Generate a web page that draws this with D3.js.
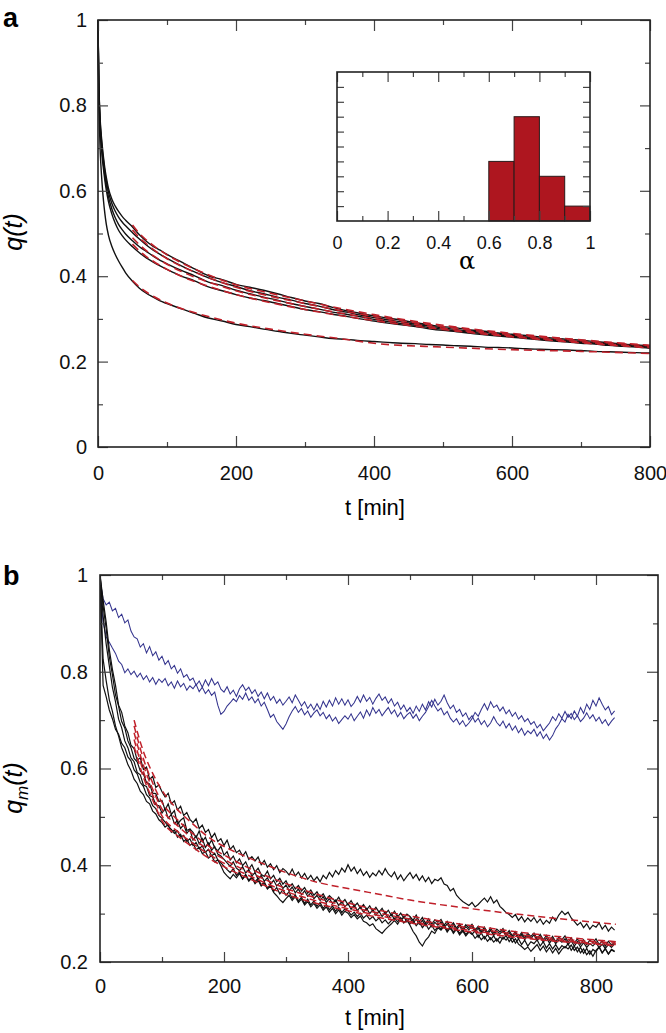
<!DOCTYPE html>
<html lang="en">
<head>
<meta charset="UTF-8">
<title>Overlap decay q(t)</title>
<script src="https://cdn.jsdelivr.net/npm/d3@7"></script>
<style>
body { margin: 0; background: #fff; font-family: Helvetica, Arial, "Liberation Sans", sans-serif; }
.tick text { font-family: Helvetica, Arial, "Liberation Sans", sans-serif; fill: #111; }
.tick line { stroke: #444; stroke-width: 1.2; }
.frame { fill: none; stroke: #222; stroke-width: 1.6; }
</style>
</head>
<body>
<script>
// ---------- panel a : q(t) ----------
var tA = [0,1,2,3,4,5,6,8,10,12,15,20,25,30,35,40,50,60,70,80,90,100,
  120,140,160,180,200,220,240,260,280,300,320,340,360,380,400,420,440,460,480,
  500,520,540,560,580,600,620,640,660,680,700,720,740,760,780,800];

var qA1 = [1,0.870,0.810,0.772,0.745,0.726,0.708,0.678,0.652,0.632,0.607,0.581,0.564,0.551,0.540,0.531,0.515,0.497,0.482,0.470,0.461,0.451,
  0.434,0.417,0.401,0.392,0.381,0.374,0.367,0.359,0.350,0.342,0.336,0.327,0.319,0.313,0.307,0.302,0.297,0.291,0.286,
  0.282,0.279,0.274,0.271,0.267,0.264,0.261,0.258,0.255,0.252,0.250,0.247,0.244,0.241,0.239,0.237];
var qA2 = [1,0.865,0.805,0.766,0.738,0.718,0.700,0.670,0.644,0.623,0.598,0.571,0.552,0.538,0.527,0.518,0.502,0.487,0.473,0.461,0.451,0.442,
  0.425,0.410,0.396,0.385,0.376,0.366,0.359,0.351,0.344,0.336,0.330,0.322,0.316,0.309,0.303,0.298,0.293,0.288,0.283,
  0.279,0.275,0.271,0.268,0.264,0.261,0.258,0.255,0.252,0.249,0.247,0.244,0.242,0.239,0.237,0.235];
var qA3 = [1,0.860,0.798,0.758,0.729,0.708,0.690,0.660,0.634,0.613,0.587,0.558,0.537,0.521,0.509,0.499,0.483,0.469,0.458,0.447,0.437,0.429,
  0.414,0.401,0.386,0.378,0.367,0.359,0.351,0.344,0.336,0.329,0.323,0.316,0.311,0.305,0.299,0.294,0.289,0.285,0.280,
  0.276,0.272,0.269,0.265,0.262,0.259,0.256,0.253,0.250,0.248,0.245,0.243,0.240,0.238,0.236,0.233];
var qA4 = [1,0.855,0.790,0.750,0.720,0.700,0.680,0.650,0.624,0.602,0.576,0.546,0.524,0.507,0.495,0.485,0.469,0.455,0.443,0.433,0.424,0.416,
  0.401,0.389,0.375,0.366,0.357,0.349,0.343,0.336,0.329,0.322,0.317,0.311,0.306,0.300,0.295,0.290,0.286,0.282,0.277,
  0.273,0.270,0.266,0.263,0.260,0.257,0.254,0.251,0.248,0.246,0.243,0.241,0.238,0.236,0.234,0.231];
var qA5 = [1,0.840,0.755,0.700,0.665,0.638,0.615,0.576,0.546,0.522,0.497,0.470,0.451,0.435,0.421,0.408,0.388,0.372,0.360,0.351,0.342,0.336,
  0.324,0.313,0.302,0.295,0.287,0.282,0.276,0.271,0.266,0.262,0.258,0.254,0.252,0.249,0.247,0.245,0.243,0.242,0.240,
  0.239,0.237,0.236,0.234,0.233,0.232,0.230,0.229,0.228,0.227,0.226,0.224,0.223,0.222,0.221,0.220];

// fitted curves (red dashed)
var tFitA = [50,60,70,80,100,125,150,200,250,300,350,400,500,600,700,800];
var fitA1 = [0.520,0.500,0.485,0.472,0.450,0.428,0.410,0.380,0.360,0.342,0.325,0.310,0.285,0.266,0.251,0.238];
var fitA2 = [0.508,0.490,0.476,0.463,0.441,0.420,0.403,0.374,0.353,0.336,0.320,0.306,0.282,0.263,0.249,0.237];
var fitA3 = [0.490,0.474,0.460,0.448,0.428,0.408,0.392,0.366,0.346,0.329,0.314,0.301,0.278,0.260,0.246,0.234];
var fitA4 = [0.475,0.459,0.446,0.435,0.416,0.397,0.382,0.357,0.338,0.322,0.308,0.296,0.275,0.258,0.244,0.232];
var fitA5 = [0.390,0.375,0.363,0.353,0.337,0.322,0.310,0.290,0.276,0.264,0.254,0.243,0.234,0.228,0.224,0.219];

// inset histogram of alpha
var alphaBins = [0.6, 0.7, 0.8, 0.9];
var alphaCounts = [4, 7, 3, 1];

// ---------- panel b : q_m(t) ----------
var tB = d3.range(0, 835, 5); // sampled every 5 min, 0..830

var k1 = [1.000,0.948,0.902,0.846,0.805,0.772,0.731,0.716,0.688,0.674,
  0.648,0.641,0.617,0.622,0.598,0.603,0.578,0.584,0.561,0.566,
  0.552,0.541,0.549,0.527,0.533,0.514,0.522,0.503,0.509,0.495,
  0.488,0.496,0.476,0.483,0.468,0.474,0.457,0.466,0.449,0.455,
  0.441,0.452,0.433,0.440,0.426,0.431,0.419,0.428,0.412,0.418,
  0.409,0.417,0.401,0.410,0.396,0.403,0.391,0.399,0.385,0.393,
  0.388,0.380,0.392,0.378,0.386,0.374,0.383,0.371,0.379,0.368,
  0.376,0.366,0.379,0.372,0.385,0.376,0.389,0.381,0.394,0.386,
  0.401,0.388,0.396,0.383,0.392,0.379,0.387,0.375,0.384,0.378,
  0.389,0.380,0.393,0.382,0.376,0.386,0.371,0.380,0.368,0.377,
  0.385,0.373,0.381,0.369,0.378,0.366,0.375,0.362,0.371,0.368,
  0.374,0.361,0.358,0.347,0.352,0.338,0.331,0.325,0.321,0.317,
  0.323,0.314,0.319,0.326,0.332,0.324,0.335,0.322,0.328,0.315,
  0.309,0.302,0.298,0.292,0.298,0.286,0.294,0.283,0.291,0.284,
  0.292,0.281,0.289,0.278,0.286,0.280,0.293,0.285,0.297,0.305,
  0.298,0.303,0.291,0.284,0.276,0.282,0.271,0.279,0.268,0.276,
  0.272,0.281,0.268,0.276,0.264,0.272,0.266];
var k2 = [1.000,0.936,0.889,0.831,0.794,0.752,0.729,0.697,0.684,0.657,
  0.643,0.621,0.614,0.595,0.589,0.571,0.568,0.549,0.548,0.532,
  0.534,0.514,0.527,0.505,0.513,0.485,0.493,0.498,0.472,0.475,
  0.468,0.457,0.471,0.449,0.458,0.441,0.452,0.436,0.430,0.439,
  0.421,0.428,0.411,0.419,0.405,0.413,0.399,0.407,0.392,0.401,
  0.386,0.394,0.381,0.377,0.388,0.372,0.379,0.366,0.373,0.361,
  0.368,0.355,0.362,0.351,0.358,0.347,0.354,0.342,0.349,0.338,
  0.345,0.334,0.341,0.329,0.337,0.331,0.325,0.334,0.322,0.329,
  0.318,0.327,0.315,0.322,0.311,0.319,0.308,0.316,0.305,0.313,
  0.303,0.311,0.299,0.307,0.296,0.305,0.293,0.301,0.291,0.299,
  0.294,0.286,0.297,0.283,0.292,0.280,0.289,0.278,0.287,0.282,
  0.288,0.276,0.284,0.273,0.281,0.270,0.279,0.268,0.277,0.271,
  0.278,0.266,0.274,0.263,0.272,0.261,0.270,0.259,0.268,0.262,
  0.269,0.257,0.265,0.254,0.263,0.252,0.261,0.250,0.259,0.253,
  0.260,0.248,0.257,0.246,0.255,0.244,0.253,0.242,0.251,0.246,
  0.254,0.241,0.250,0.239,0.248,0.237,0.246,0.236,0.245,0.240,
  0.248,0.236,0.244,0.233,0.243,0.235,0.241];
var k3 = [1.000,0.915,0.857,0.812,0.768,0.738,0.702,0.684,0.657,0.643,
  0.622,0.614,0.592,0.587,0.566,0.563,0.544,0.541,0.525,0.523,
  0.508,0.517,0.497,0.505,0.486,0.493,0.476,0.484,0.466,0.474,
  0.452,0.461,0.444,0.455,0.437,0.446,0.431,0.439,0.423,0.419,
  0.412,0.405,0.398,0.407,0.394,0.389,0.397,0.384,0.391,0.378,
  0.385,0.371,0.379,0.367,0.374,0.361,0.369,0.357,0.364,0.352,
  0.359,0.347,0.355,0.343,0.351,0.339,0.347,0.336,0.343,0.331,
  0.338,0.327,0.335,0.323,0.331,0.321,0.328,0.317,0.325,0.314,
  0.321,0.309,0.318,0.306,0.314,0.303,0.311,0.300,0.308,0.297,
  0.305,0.294,0.302,0.291,0.299,0.288,0.296,0.285,0.294,0.283,
  0.291,0.280,0.289,0.278,0.286,0.275,0.284,0.273,0.282,0.276,
  0.283,0.271,0.279,0.268,0.277,0.266,0.275,0.264,0.273,0.267,
  0.274,0.262,0.270,0.259,0.268,0.257,0.266,0.255,0.264,0.258,
  0.265,0.253,0.261,0.250,0.259,0.248,0.257,0.246,0.255,0.249,
  0.256,0.244,0.252,0.241,0.250,0.239,0.248,0.238,0.246,0.241,
  0.248,0.236,0.244,0.233,0.242,0.231,0.240,0.230,0.238,0.233,
  0.241,0.229,0.237,0.228,0.236,0.230,0.238];
var k4 = [1.000,0.772,0.748,0.721,0.703,0.681,0.671,0.652,0.643,0.624,
  0.616,0.597,0.589,0.571,0.563,0.546,0.539,0.523,0.517,0.503,
  0.497,0.489,0.481,0.474,0.466,0.471,0.458,0.462,0.449,0.455,
  0.441,0.447,0.434,0.440,0.427,0.433,0.419,0.425,0.411,0.405,
  0.398,0.391,0.385,0.393,0.379,0.386,0.372,0.381,0.369,0.376,
  0.366,0.373,0.359,0.366,0.352,0.360,0.346,0.354,0.341,0.349,
  0.338,0.345,0.331,0.339,0.326,0.334,0.321,0.330,0.318,0.326,
  0.315,0.323,0.311,0.319,0.308,0.316,0.305,0.313,0.302,0.310,
  0.306,0.297,0.303,0.294,0.301,0.291,0.297,0.288,0.294,0.285,
  0.291,0.281,0.287,0.279,0.286,0.291,0.283,0.292,0.281,0.287,
  0.276,0.263,0.254,0.241,0.233,0.245,0.252,0.264,0.259,0.271,
  0.266,0.274,0.262,0.271,0.259,0.268,0.256,0.264,0.254,0.262,
  0.257,0.265,0.251,0.260,0.248,0.257,0.246,0.254,0.243,0.252,
  0.247,0.255,0.242,0.251,0.239,0.248,0.236,0.245,0.233,0.242,
  0.238,0.246,0.233,0.242,0.229,0.238,0.227,0.236,0.225,0.234,
  0.229,0.238,0.224,0.233,0.221,0.230,0.218,0.228,0.216,0.226,
  0.221,0.231,0.219,0.228,0.217,0.226,0.222];
var k5 = [1.000,0.826,0.781,0.742,0.718,0.688,0.667,0.643,0.627,0.608,
  0.596,0.578,0.569,0.553,0.546,0.532,0.527,0.512,0.506,0.494,
  0.488,0.479,0.484,0.468,0.473,0.458,0.464,0.449,0.455,0.441,
  0.446,0.432,0.437,0.424,0.428,0.415,0.420,0.407,0.411,0.399,
  0.385,0.378,0.372,0.381,0.374,0.383,0.371,0.379,0.367,0.374,
  0.362,0.369,0.357,0.363,0.351,0.357,0.344,0.337,0.329,0.323,
  0.331,0.338,0.327,0.335,0.323,0.330,0.318,0.325,0.314,0.321,
  0.311,0.318,0.307,0.314,0.303,0.311,0.300,0.308,0.297,0.305,
  0.301,0.292,0.298,0.289,0.295,0.284,0.281,0.275,0.279,0.269,
  0.264,0.259,0.267,0.273,0.279,0.286,0.278,0.289,0.281,0.287,
  0.279,0.286,0.275,0.283,0.271,0.279,0.268,0.276,0.265,0.273,
  0.269,0.277,0.265,0.273,0.262,0.270,0.259,0.267,0.257,0.264,
  0.259,0.249,0.256,0.246,0.253,0.243,0.250,0.241,0.248,0.239,
  0.251,0.245,0.253,0.241,0.248,0.237,0.232,0.226,0.231,0.222,
  0.229,0.236,0.224,0.233,0.221,0.230,0.219,0.228,0.217,0.226,
  0.232,0.227,0.235,0.224,0.231,0.219,0.227,0.215,0.223,0.212,
  0.224,0.231,0.219,0.227,0.216,0.225,0.221];

var blueA = [0.990,0.951,0.938,0.944,0.926,0.931,0.912,0.919,0.901,0.907,
  0.884,0.872,0.868,0.851,0.858,0.839,0.852,0.833,0.841,0.824,
  0.832,0.815,0.823,0.806,0.813,0.797,0.806,0.789,0.794,0.782,
  0.787,0.772,0.781,0.768,0.783,0.771,0.786,0.773,0.779,0.764,
  0.758,0.769,0.754,0.762,0.749,0.765,0.773,0.761,0.768,0.755,
  0.763,0.749,0.758,0.744,0.756,0.741,0.749,0.735,0.743,0.731,
  0.739,0.748,0.736,0.752,0.741,0.729,0.738,0.724,0.733,0.721,
  0.734,0.722,0.739,0.727,0.741,0.729,0.746,0.733,0.744,0.731,
  0.742,0.728,0.736,0.749,0.737,0.752,0.739,0.747,0.733,0.745,
  0.754,0.741,0.748,0.735,0.744,0.729,0.737,0.722,0.731,0.718,
  0.726,0.714,0.729,0.718,0.733,0.721,0.738,0.727,0.743,0.731,
  0.739,0.752,0.736,0.724,0.731,0.716,0.722,0.708,0.715,0.701,
  0.709,0.696,0.704,0.691,0.699,0.686,0.694,0.707,0.695,0.688,
  0.698,0.684,0.693,0.679,0.688,0.674,0.683,0.669,0.678,0.672,
  0.681,0.667,0.676,0.662,0.671,0.659,0.668,0.682,0.691,0.703,
  0.696,0.712,0.703,0.719,0.708,0.726,0.714,0.733,0.722,0.741,
  0.729,0.746,0.733,0.721,0.728,0.711,0.719];
var blueB = [0.970,0.903,0.872,0.861,0.849,0.838,0.822,0.815,0.798,0.806,
  0.794,0.801,0.789,0.797,0.784,0.792,0.779,0.788,0.774,0.785,
  0.778,0.786,0.771,0.779,0.766,0.781,0.769,0.776,0.762,0.771,
  0.765,0.774,0.759,0.768,0.755,0.763,0.751,0.758,0.731,0.712,
  0.718,0.729,0.736,0.744,0.738,0.751,0.743,0.756,0.741,0.748,
  0.736,0.744,0.729,0.737,0.722,0.706,0.712,0.697,0.689,0.681,
  0.692,0.707,0.719,0.728,0.716,0.724,0.711,0.719,0.706,0.715,
  0.721,0.709,0.716,0.703,0.711,0.698,0.706,0.693,0.701,0.709,
  0.702,0.713,0.699,0.708,0.717,0.704,0.721,0.709,0.726,0.714,
  0.722,0.709,0.718,0.726,0.713,0.721,0.707,0.716,0.703,0.711,
  0.716,0.704,0.712,0.699,0.708,0.716,0.728,0.741,0.729,0.719,
  0.725,0.711,0.718,0.704,0.696,0.703,0.691,0.699,0.687,0.694,
  0.703,0.716,0.708,0.722,0.734,0.721,0.738,0.726,0.731,0.719,
  0.727,0.713,0.721,0.708,0.716,0.702,0.709,0.697,0.703,0.691,
  0.697,0.684,0.691,0.678,0.686,0.694,0.707,0.699,0.713,0.704,
  0.718,0.706,0.714,0.701,0.709,0.697,0.704,0.715,0.703,0.711,
  0.698,0.706,0.693,0.701,0.689,0.698,0.705];

var tFitB = [55,70,85,100,125,150,175,206,250,300,350,400,450,500,600,700,832];
var fitB1 = [0.700,0.635,0.590,0.555,0.515,0.485,0.458,0.435,0.410,0.385,0.365,0.352,0.340,0.328,0.310,0.295,0.278];
var fitB2 = [0.688,0.620,0.570,0.530,0.494,0.465,0.440,0.417,0.388,0.362,0.340,0.322,0.307,0.295,0.275,0.258,0.242];
var fitB3 = [0.674,0.607,0.557,0.516,0.482,0.455,0.432,0.408,0.380,0.352,0.332,0.315,0.301,0.289,0.270,0.253,0.239];
var fitB4 = [0.660,0.594,0.545,0.502,0.470,0.445,0.423,0.400,0.373,0.346,0.326,0.310,0.296,0.284,0.265,0.249,0.236];
var fitB5 = [0.645,0.582,0.535,0.492,0.461,0.437,0.415,0.393,0.367,0.340,0.321,0.306,0.292,0.281,0.262,0.247,0.234];

// tick values
var xTicksA = [0,200,400,600,800], xMinorA = [100,300,500,700];
var yTicksA = [0,0.2,0.4,0.6,0.8,1], yMinorA = [0.1,0.3,0.5,0.7,0.9];
var xTicksB = [0,200,400,600,800], xMinorB = [100,300,500,700];
var yTicksB = [0.2,0.4,0.6,0.8,1], yMinorB = [0.3,0.5,0.7,0.9];
var xTicksI = [0,0.2,0.4,0.6,0.8,1], xMinorI = [0.1,0.3,0.5,0.7,0.9];
var yTicksI = [1,2,3,4,5,6,7,8,9];

var RED = "#c0202a", BLUE = "#34348e";

var svg = d3.select("body").append("svg")
    .attr("width", 666)
    .attr("height", 1033);

function pairs(ts, vs) {
  return vs.map(function(v, i) { return [ts[i], v]; });
}

// draws inward ticks on all four sides of a plot box
function frame(x, y, o) {
  var x0 = x.range()[0], x1 = x.range()[1], y0 = y.range()[0], y1 = y.range()[1];
  var g = svg.append("g");
  function put(axis, tx, ty) {
    var a = g.append("g").attr("transform", "translate(" + tx + "," + ty + ")").call(axis);
    a.select(".domain").remove();
    return a;
  }
  var fmt = function(d) { return String(d); };
  put(d3.axisBottom(x).tickValues(o.xt).tickSizeInner(-o.big).tickSizeOuter(0).tickPadding(o.xpad).tickFormat(o.xlab === false ? "" : fmt), 0, y0)
    .selectAll("text").style("font-size", o.fs + "px");
  put(d3.axisBottom(x).tickValues(o.xm).tickSizeInner(-o.small).tickSizeOuter(0).tickFormat(""), 0, y0);
  put(d3.axisTop(x).tickValues(o.xt).tickSizeInner(-o.big).tickSizeOuter(0).tickFormat(""), 0, y1);
  put(d3.axisTop(x).tickValues(o.xm).tickSizeInner(-o.small).tickSizeOuter(0).tickFormat(""), 0, y1);
  var left = put(d3.axisLeft(y).tickValues(o.yt).tickSizeInner(-o.ybig).tickSizeOuter(0).tickPadding(o.ypad).tickFormat(o.ylab === false ? "" : fmt), x0, 0);
  left.selectAll("text").style("font-size", o.fs + "px");
  put(d3.axisRight(y).tickValues(o.yt).tickSizeInner(-o.ybig).tickSizeOuter(0).tickFormat(""), x1, 0);
  if (o.ym) {
    put(d3.axisLeft(y).tickValues(o.ym).tickSizeInner(-o.small).tickSizeOuter(0).tickFormat(""), x0, 0);
    put(d3.axisRight(y).tickValues(o.ym).tickSizeInner(-o.small).tickSizeOuter(0).tickFormat(""), x1, 0);
  }
  g.append("rect").attr("class", "frame")
    .attr("x", x0).attr("y", y1).attr("width", x1 - x0).attr("height", y0 - y1);
  return g;
}

// ===== panel a =====
var xA = d3.scaleLinear().domain([0, 800]).range([98, 650]);
var yA = d3.scaleLinear().domain([0, 1]).range([447, 20]);
var lineA = d3.line().x(function(d) { return xA(d[0]); }).y(function(d) { return yA(d[1]); });
var fitLineA = d3.line().curve(d3.curveMonotoneX).x(function(d) { return xA(d[0]); }).y(function(d) { return yA(d[1]); });

[qA1, qA2, qA3, qA4, qA5].forEach(function(s) {
  svg.append("path").attr("d", lineA.curve(d3.curveMonotoneX)(pairs(tA, s)))
    .attr("fill", "none").attr("stroke", "#111").attr("stroke-width", 1.4);
});
[fitA1, fitA2, fitA3, fitA4, fitA5].forEach(function(s) {
  svg.append("path").attr("d", fitLineA(pairs(tFitA, s)))
    .attr("fill", "none").attr("stroke", RED).attr("stroke-width", 1.6)
    .attr("stroke-dasharray", "8,5");
});

frame(xA, yA, {xt: xTicksA, xm: xMinorA, yt: yTicksA, ym: yMinorA, big: 11, ybig: 10, small: 5, xpad: 19, ypad: 11, fs: 20});

// inset
var xI = d3.scaleLinear().domain([0, 1]).range([337, 590]);
var yI = d3.scaleLinear().domain([0, 10]).range([221, 72]);
svg.append("rect").attr("x", 337).attr("y", 72).attr("width", 253).attr("height", 149).attr("fill", "#fff");
svg.append("g").selectAll("rect").data(alphaBins).enter().append("rect")
  .attr("x", function(d) { return xI(d); })
  .attr("width", function(d) { return xI(d + 0.1) - xI(d); })
  .attr("y", function(d, i) { return yI(alphaCounts[i]); })
  .attr("height", function(d, i) { return yI(0) - yI(alphaCounts[i]); })
  .attr("fill", "#ae161f").attr("stroke", "#2a1a1a").attr("stroke-width", 1);
frame(xI, yI, {xt: xTicksI, xm: xMinorI, yt: yTicksI, ym: null, big: 10, ybig: 7, small: 5, xpad: 15, ypad: 0, fs: 18, ylab: false});
svg.append("text").attr("x", 467).attr("y", 269).attr("text-anchor", "middle")
  .style("font-size", "24px").style("font-family", "'DejaVu Serif', serif").text("α");

svg.append("text").attr("x", 375).attr("y", 515).attr("text-anchor", "middle")
  .style("font-size", "22px").text("t [min]");
svg.append("text").attr("transform", "translate(22,232) rotate(-90)").attr("text-anchor", "middle")
  .style("font-size", "25px").style("font-style", "italic").text("q(t)");
svg.append("text").attr("x", 3).attr("y", 27)
  .style("font-size", "27px").style("font-weight", "bold").text("a");

// ===== panel b =====
var xB = d3.scaleLinear().domain([0, 900]).range([100, 658]);
var yB = d3.scaleLinear().domain([0.2, 1]).range([962, 575]);
var lineB = d3.line().x(function(d) { return xB(d[0]); }).y(function(d) { return yB(d[1]); });
var fitLineB = d3.line().curve(d3.curveMonotoneX).x(function(d) { return xB(d[0]); }).y(function(d) { return yB(d[1]); });

svg.append("clipPath").attr("id", "clipB").append("rect")
  .attr("x", 100).attr("y", 575).attr("width", 558).attr("height", 387);
var gB = svg.append("g").attr("clip-path", "url(#clipB)");

[blueA, blueB].forEach(function(s) {
  gB.append("path").attr("d", lineB(pairs(tB, s)))
    .attr("fill", "none").attr("stroke", BLUE).attr("stroke-width", 1.05);
});
[k1, k2, k3, k4, k5].forEach(function(s) {
  gB.append("path").attr("d", lineB(pairs(tB, s)))
    .attr("fill", "none").attr("stroke", "#111").attr("stroke-width", 1.2);
});
[fitB1, fitB2, fitB3, fitB4, fitB5].forEach(function(s) {
  gB.append("path").attr("d", fitLineB(pairs(tFitB, s)))
    .attr("fill", "none").attr("stroke", RED).attr("stroke-width", 1.5)
    .attr("stroke-dasharray", "7,4");
});

frame(xB, yB, {xt: xTicksB, xm: xMinorB, yt: yTicksB, ym: yMinorB, big: 10, ybig: 11, small: 5, xpad: 17, ypad: 12, fs: 20});

svg.append("text").attr("x", 375).attr("y", 1025).attr("text-anchor", "middle")
  .style("font-size", "22px").text("t [min]");
var qm = svg.append("text").attr("transform", "translate(22,788) rotate(-90)").attr("text-anchor", "middle")
  .style("font-size", "25px").style("font-style", "italic");
qm.append("tspan").text("q");
qm.append("tspan").attr("dy", 6).style("font-size", "17px").text("m");
qm.append("tspan").attr("dy", -6).text("(t)");
svg.append("text").attr("x", 3).attr("y", 585)
  .style("font-size", "27px").style("font-weight", "bold").text("b");
</script>
</body>
</html>
